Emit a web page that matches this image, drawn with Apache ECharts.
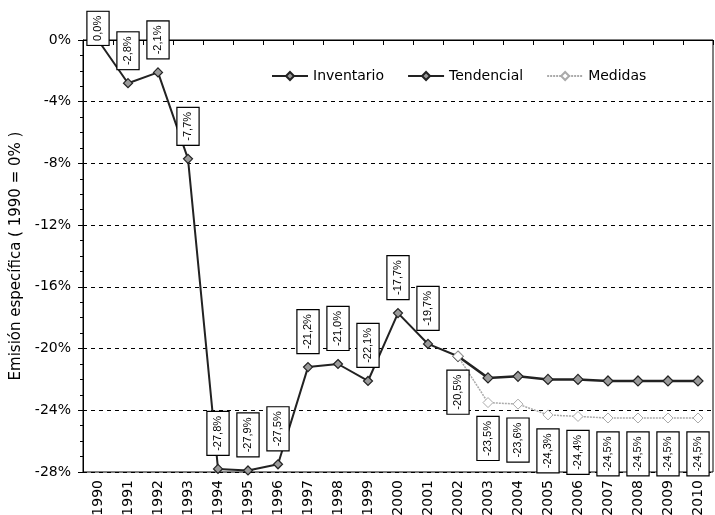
<!DOCTYPE html>
<html>
<head>
<meta charset="utf-8">
<script src="https://cdn.jsdelivr.net/npm/echarts@6/dist/echarts.min.js"></script>
<style>
html,body{margin:0;padding:0;background:#fff;}
#c{width:715px;height:515px;}
</style>
</head>
<body>
<div id="c"></div>
<script>
const years = ['1990','1991','1992','1993','1994','1995','1996','1997','1998','1999','2000','2001','2002','2003','2004','2005','2006','2007','2008','2009','2010'];
const inventario = [0.0,-2.8,-2.1,-7.7,-27.8,-27.9,-27.5,-21.2,-21.0,-22.1,-17.7,-19.7,-20.5,null,null,null,null,null,null,null,null];
const tendencial = [null,null,null,null,null,null,null,null,null,null,null,null,-20.5,-21.9,-21.8,-22.0,-22.0,-22.1,-22.1,-22.1,-22.1];
const medidas = [null,null,null,null,null,null,null,null,null,null,null,null,-20.5,-23.5,-23.6,-24.3,-24.4,-24.5,-24.5,-24.5,-24.5];
const yTicks = {min:-28, max:0, interval:4};

function fmt(v){ return (v < 0 ? '-' : '') + Math.abs(v).toFixed(1).replace('.', ',') + '%'; }

const labelBase = {
  show: true,
  rotate: 90,
  fontFamily: 'Liberation Sans',
  fontSize: 11,
  color: '#000',
  backgroundColor: '#fff',
  borderColor: '#000',
  borderWidth: 1.2,
  padding: [5, 4, 5, 4],
  verticalAlign: 'middle',
  formatter: p => fmt(p.value)
};

const invData = inventario.map((v, i) => {
  if (v === null) return null;
  if (i === 12) return {value: v, label: {show: false}};
  if (i === 0) return {value: v, label: {distance: -10}};
  return v;
});

const chart = echarts.init(document.getElementById('c'), null, {renderer: 'canvas'});
chart.setOption({
  animation: false,
  backgroundColor: '#fff',
  textStyle: {fontFamily: 'DejaVu Sans'},
  grid: {left: 83, right: 2, top: 40, bottom: 43, outerBoundsMode: 'none', containLabel: false, show: true, borderColor: '#000', borderWidth: 1, backgroundColor: 'transparent'},
  legend: {
    left: 266, top: 64,
    itemWidth: 36, itemHeight: 10, itemGap: 23,
    textStyle: {fontFamily: 'DejaVu Sans', fontSize: 14, color: '#000'},
    data: ['Inventario', 'Tendencial', 'Medidas']
  },
  xAxis: {
    type: 'category',
    data: years,
    boundaryGap: true,
    axisLine: {lineStyle: {color: '#000', width: 1}},
    axisTick: {show: true, length: 5, lineStyle: {color: '#000'}},
    axisLabel: {rotate: 90, interval: 0, margin: 8, fontSize: 14, color: '#000', fontFamily: 'DejaVu Sans'},
    splitLine: {show: false}
  },
  yAxis: {
    type: 'value',
    min: yTicks.min, max: yTicks.max, interval: yTicks.interval,
    name: 'Emisión específica ( 1990 = 0% )',
    nameLocation: 'middle',
    nameGap: 58,
    nameTextStyle: {fontSize: 15, color: '#000', fontFamily: 'DejaVu Sans'},
    axisLine: {show: true, lineStyle: {color: '#000', width: 1}},
    axisTick: {show: true, length: 5, lineStyle: {color: '#000'}},
    minorTick: {show: true, splitNumber: 4, length: 3, lineStyle: {color: '#000'}},
    axisLabel: {fontSize: 14, color: '#000', margin: 12, fontFamily: 'DejaVu Sans', formatter: v => v + '%'},
    splitLine: {show: true, lineStyle: {color: '#000', type: [4, 4], width: 1}}
  },
  series: [
    {
      name: 'Inventario', type: 'line', data: invData,
      symbol: 'diamond', symbolSize: 9, showAllSymbol: true,
      lineStyle: {color: '#222', width: 2},
      itemStyle: {color: '#9a9a9a', borderColor: '#222', borderWidth: 1.2},
      label: Object.assign({}, labelBase, {position: 'top', distance: 9, align: 'left'}),
      z: 3
    },
    {
      name: 'Tendencial', type: 'line', data: tendencial,
      symbol: 'diamond', symbolSize: 10, showAllSymbol: true,
      lineStyle: {color: '#222', width: 2.5},
      itemStyle: {color: '#9a9a9a', borderColor: '#222', borderWidth: 1.2},
      label: {show: false},
      z: 3
    },
    {
      name: 'Medidas', type: 'line', data: medidas,
      symbol: 'diamond', symbolSize: 10, showAllSymbol: true,
      lineStyle: {color: '#aaaaaa', width: 1.5, type: [2, 1]},
      itemStyle: {color: '#fff', borderColor: '#aaaaaa', borderWidth: 1},
      label: Object.assign({}, labelBase, {position: 'bottom', distance: 9, align: 'right'}),
      z: 4
    }
  ]
});
</script>
</body>
</html>
